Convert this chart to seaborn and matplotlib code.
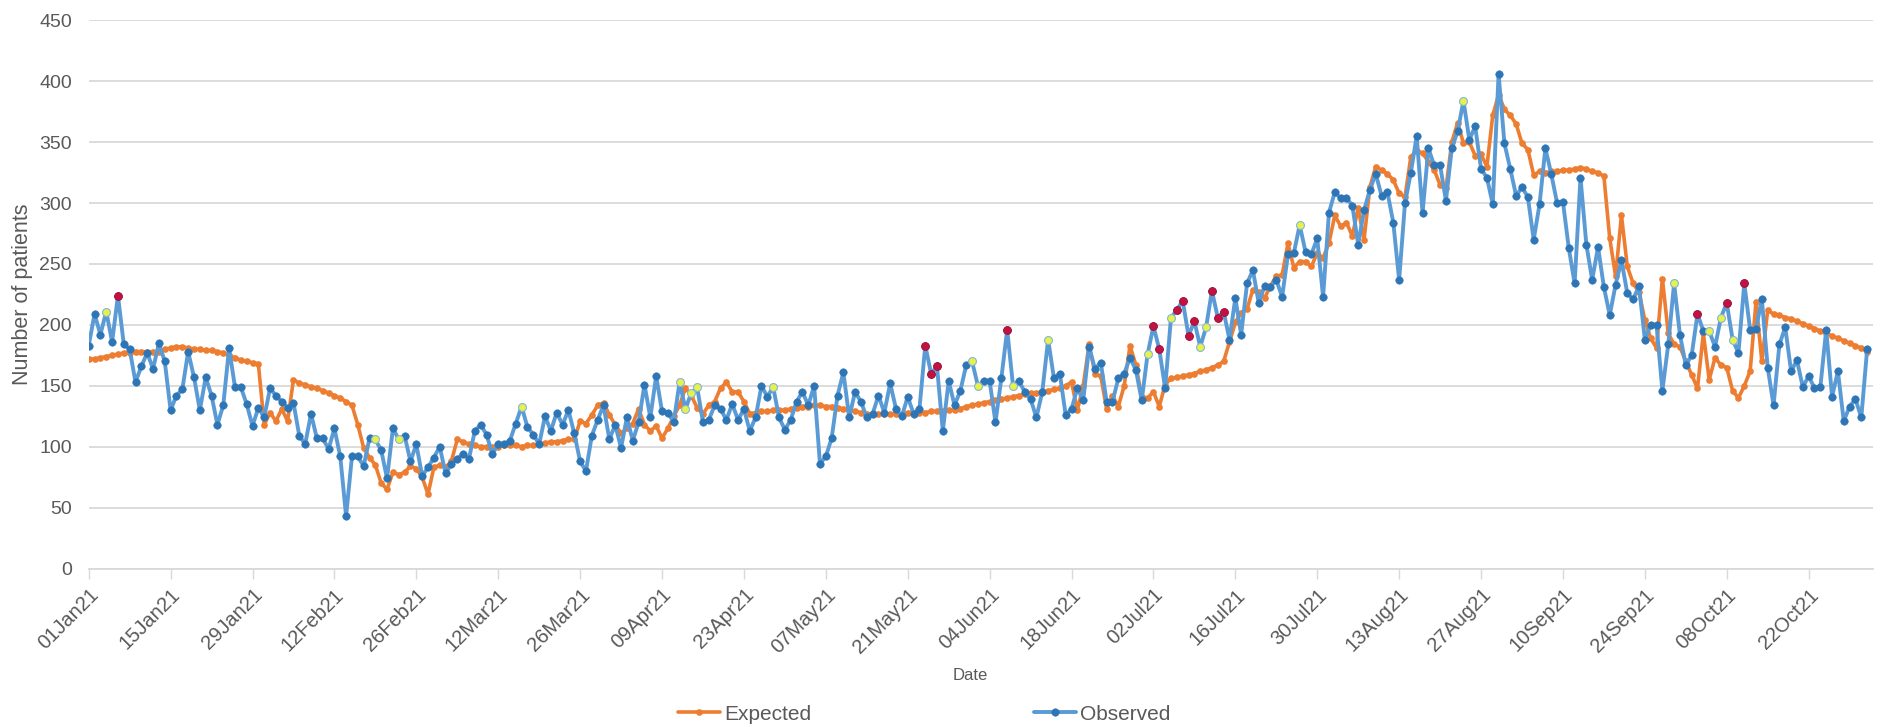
import matplotlib
matplotlib.use("Agg")
import matplotlib.pyplot as plt
import matplotlib.dates as mdates
import seaborn as sns
import pandas as pd

# ---------------- data ----------------
start_date = "2021-01-01"

expected = [
    172, 172, 173, 174, 175, 176, 177, 177, 178, 178, 178, 178, 178, 180, 181, 182, 182, 181, 180, 180,
    179, 179, 178, 177, 175, 173, 171, 170, 169, 168, 118, 128, 121, 131, 121, 155, 152,
    151, 149, 148, 146, 144, 142, 140, 137, 134,
    118, 99, 91, 85, 70, 65, 79, 77, 79, 84, 82, 75, 61, 83, 85, 83, 88,
    106, 104, 102, 101, 100, 100, 100, 100, 101, 101, 101, 100, 101, 101, 102, 103, 104, 104, 105, 106, 106,
    121, 119, 126, 134, 136, 126, 118, 111, 115, 119,
    131, 118, 113, 117, 107, 115, 125, 134, 148, 142,
    132, 127, 134, 137, 148, 153, 145, 145, 137, 127,
    128, 129, 129, 130, 130, 130, 131, 132, 133, 133,
    134, 134, 133, 133, 132, 131, 130, 129, 128, 127,
    127, 127, 127, 127, 127, 127, 128, 128, 128, 128,
    129, 129, 129, 130, 130, 131,
    133, 134, 135, 136, 137, 138, 139, 140, 141, 142,
    143, 144, 144, 145, 146, 147, 148, 150, 153, 130,
    150, 184, 160, 158, 131, 142, 133, 150, 183, 167,
    141, 140, 145, 133, 151, 156, 157,
    158, 159, 160, 162, 163, 165, 167, 170, 186, 202,
    210, 213, 229, 227, 222, 232, 240, 241, 267, 247,
    252, 252, 248, 259, 255, 267, 290, 281, 284, 273,
    296, 270, 313, 330, 327, 324, 319, 308,
    305, 338, 343, 341, 334, 327, 315, 312, 350, 366,
    349, 350, 339, 340, 330, 372, 389, 377, 372, 365,
    349, 344, 323, 326, 325, 326, 326, 327, 327, 328,
    329, 328, 326, 325, 322,
    271, 240, 290, 248, 234, 227, 204, 189, 181, 238,
    193, 184, 182, 170, 159, 148, 193, 155, 173, 167,
    165, 146, 140, 150, 162, 219, 170, 212, 209, 208,
    206, 205, 203, 201, 199, 197, 195, 193, 191, 189,
    187, 185, 183, 181, 178,
]

observed = [
    183, 209, 192, 211, 186, 224, 184, 180, 153, 166, 177, 164, 185, 170, 130, 142, 147, 178, 157, 130,
    157, 142, 118, 134, 181, 149, 149, 135, 117, 132, 124, 148, 142, 137, 132, 136, 109, 102, 127, 107,
    107, 98, 115, 92, 43, 92, 92, 84, 107, 106, 97, 74, 115, 106, 109, 88, 102, 76, 83, 91,
    100, 78, 86, 90, 94, 90, 113, 118, 110, 94, 102, 102, 105, 119, 133, 116, 110, 102, 125, 113,
    128, 118, 130, 111, 88, 80, 109, 122, 134, 106, 118, 99, 124, 105, 120, 151, 124, 158, 129, 128,
    120, 153, 131, 144, 149, 120, 122, 134, 131, 122, 135, 122, 131, 113, 124, 150, 141, 149, 124, 114,
    122, 137, 145, 134, 150, 86, 92, 107, 142, 161, 124, 145, 137, 124, 127, 142, 128, 152, 131, 125,
    141, 127, 131, 183, 160, 166, 113, 154, 134, 146, 167, 170, 150, 154, 154, 120, 156, 196, 150, 154,
    145, 139, 124, 145, 188, 156, 160, 126, 131, 148, 138, 182, 164, 169, 137, 137, 156, 160, 173, 163,
    138, 176, 199, 180, 148, 206, 212, 220, 191, 203, 182, 198, 228, 206, 211, 188, 222, 192, 234, 245,
    218, 232, 231, 237, 223, 258, 259, 282, 260, 258, 271, 223, 292, 309, 304, 304, 298, 266, 294, 311,
    324, 306, 309, 284, 237, 300, 325, 355, 292, 345, 331, 331, 302, 345, 359, 384, 352, 363, 328, 321,
    299, 406, 349, 328, 306, 313, 305, 270, 299, 345, 324, 300, 301, 263, 234, 321, 266, 237, 264, 231,
    208, 233, 253, 226, 221, 232, 188, 200, 200, 146, 184, 234, 192, 167, 175, 209, 195, 195, 182, 206,
    218, 188, 177, 234, 196, 197, 221, 165, 134, 184, 198, 162, 171, 149, 158, 148, 149, 196, 141, 162,
    121, 133, 139, 124, 180,
]

# days (index into the series) whose observed marker is highlighted
flag_yellow_idx = [3, 49, 53, 74, 101, 102, 103, 104, 117, 151, 152, 158, 164, 181, 185, 190, 191,
                   207, 235, 271, 277, 279, 281]
flag_red_idx = [5, 143, 144, 145, 157, 182, 183, 186, 187, 188, 189, 192, 193, 194, 275, 280, 283]

y_ticks = [0, 50, 100, 150, 200, 250, 300, 350, 400, 450]
series_names = ["Expected", "Observed"]

# ---------------- styling ----------------
ORANGE = "#ED7D31"
BLUE_LINE = "#5B9BD5"
BLUE_MARK = "#2E75B6"
TEXT = "#595959"
GRID = "#D9D9D9"

sns.set_theme(style="white")
plt.rcParams["font.family"] = ["Liberation Sans", "DejaVu Sans"]

dates = pd.date_range(start_date, periods=len(observed), freq="D")
df_exp = pd.DataFrame({"Date": dates, "Number of patients": expected})
df_obs = pd.DataFrame({"Date": dates, "Number of patients": observed})
df_yel = df_obs.iloc[flag_yellow_idx]
df_red = df_obs.iloc[flag_red_idx]

W, H = 1881, 727
fig = plt.figure(figsize=(W / 100, H / 100), dpi=100)
x0, x1, y0, y1 = 88.7, 1873, 20.4, 568.5
ax = fig.add_axes([x0 / W, 1 - y1 / H, (x1 - x0) / W, (y1 - y0) / H])

sns.lineplot(data=df_exp, x="Date", y="Number of patients", ax=ax, color=ORANGE,
             linewidth=2.6, marker="o", markersize=4.8, markeredgewidth=0,
             label=series_names[0], zorder=2)
sns.lineplot(data=df_obs, x="Date", y="Number of patients", ax=ax, color=BLUE_LINE,
             linewidth=2.8, marker="o", markersize=5.4, markerfacecolor=BLUE_MARK,
             markeredgecolor=BLUE_MARK, markeredgewidth=0.4,
             label=series_names[1], zorder=3)
sns.scatterplot(data=df_yel, x="Date", y="Number of patients", ax=ax, color="#E4F24A",
                edgecolor="#8CB9D8", linewidth=0.8, s=32, legend=False, zorder=4)
sns.scatterplot(data=df_red, x="Date", y="Number of patients", ax=ax, color="#C4123F",
                edgecolor="#A01040", linewidth=0.6, s=32, legend=False, zorder=4)

# axes
ax.set_ylim(0, 450)
ax.set_yticks(y_ticks)
ax.set_xlim(dates[0], dates[0] + pd.Timedelta(days=305))
xticks = pd.date_range(dates[0], dates[-1], freq="14D")
ax.set_xticks(xticks)
ax.xaxis.set_major_formatter(mdates.DateFormatter("%d%b%y"))

ax.yaxis.grid(True, color=GRID, linewidth=1.3)
ax.xaxis.grid(False)
for s in ["top", "right", "left"]:
    ax.spines[s].set_visible(False)
ax.spines["bottom"].set_color(GRID)
ax.spines["bottom"].set_linewidth(1.3)

ax.tick_params(axis="y", length=0, pad=12, labelsize=14, labelcolor=TEXT)
ax.tick_params(axis="x", direction="out", length=7, width=1, color=GRID, pad=5,
               labelsize=14.5, labelcolor=TEXT, bottom=True)
for lab in ax.get_xticklabels():
    lab.set_rotation(45)
    lab.set_ha("right")
    lab.set_rotation_mode("anchor")

ax.set_ylabel("Number of patients", fontsize=15.5, color=TEXT)
ax.yaxis.set_label_coords(-0.031, 0.5)
ax.set_xlabel("Date", fontsize=12, color=TEXT)
ax.xaxis.set_label_coords((970 - x0) / (x1 - x0), -(668 - y1) / (y1 - y0))

# legend
handles, labels = ax.get_legend_handles_labels()
ax.get_legend().remove()
fig.legend(handles[:2], labels[:2], loc="center", bbox_to_anchor=(924 / W, 1 - 714 / H),
           ncol=2, frameon=False, fontsize=15, labelcolor=TEXT, handlelength=2.0,
           handletextpad=0.2, columnspacing=10.7)

fig.savefig("out.png", dpi=100)
